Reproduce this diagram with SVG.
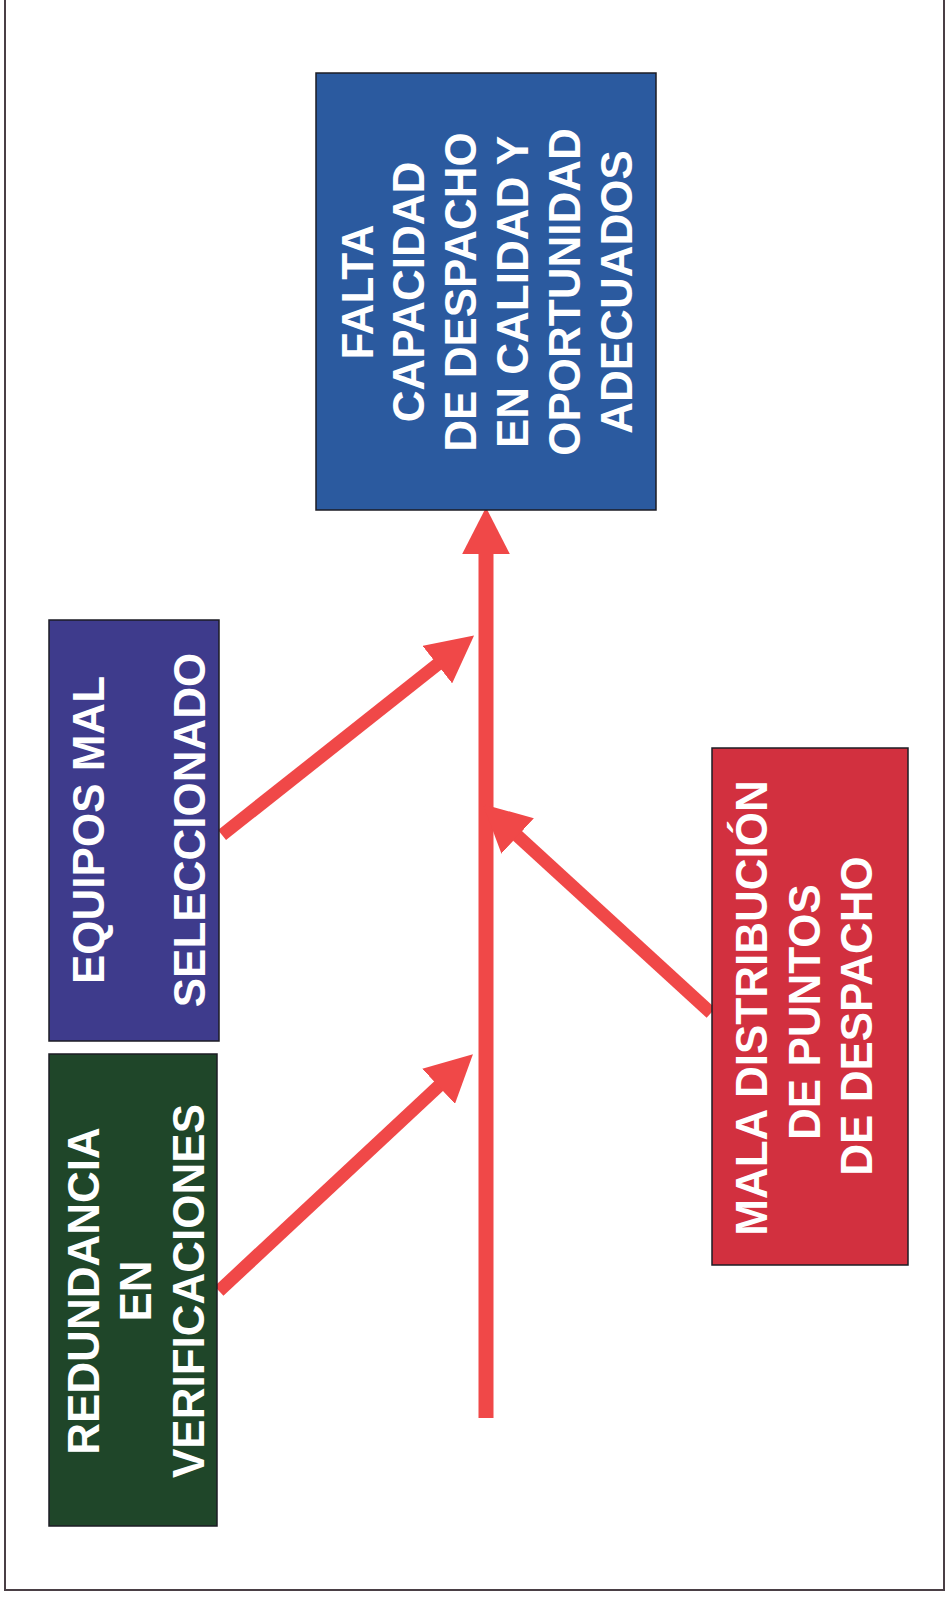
<svg xmlns="http://www.w3.org/2000/svg" width="948" height="1600" viewBox="0 0 948 1600">
<style>
.box{stroke:#1c1c24;stroke-width:1.5}
.t{font-family:"Liberation Sans",Arial,sans-serif;font-weight:bold;font-size:44px;fill:#ffffff;text-anchor:middle}
.arr{stroke:#f04848;fill:none;stroke-linecap:butt}
</style>
<defs>
<marker id="ah" markerUnits="userSpaceOnUse" markerWidth="48" markerHeight="48" refX="8" refY="23" orient="auto" viewBox="0 0 46 46">
<path d="M0,0 L45,23 L0,46 Z" fill="#f04848"/>
</marker>
</defs>
<rect width="948" height="1600" fill="#ffffff"/>
<path d="M5,0 V1590 H944 V0" fill="none" stroke="#4a3f45" stroke-width="2"/>

<g id="connectors">
<line class="arr" x1="486" y1="1418" x2="486" y2="546" stroke-width="15" marker-end="url(#ah)"/>
<line class="arr" x1="222" y1="835" x2="443.8" y2="659.4" stroke-width="13" marker-end="url(#ah)"/>
<line class="arr" x1="219" y1="1291" x2="444.7" y2="1080.6" stroke-width="13" marker-end="url(#ah)"/>
<line class="arr" x1="711" y1="1013" x2="511.5" y2="830.3" stroke-width="13" marker-end="url(#ah)"/>
</g>

<g id="node-falta">
<rect class="box" x="316" y="73" width="340" height="437" fill="#2b5a9f"/>
<text class="t" transform="translate(373,292) rotate(-90)">FALTA</text>
<text class="t" transform="translate(424,292) rotate(-90)">CAPACIDAD</text>
<text class="t" transform="translate(476,292) rotate(-90)">DE DESPACHO</text>
<text class="t" transform="translate(528,292) rotate(-90)">EN CALIDAD Y</text>
<text class="t" transform="translate(580,292) rotate(-90)">OPORTUNIDAD</text>
<text class="t" transform="translate(632,292) rotate(-90)">ADECUADOS</text>
</g>

<g id="node-equipos">
<rect class="box" x="49" y="620" width="170" height="421" fill="#3e3b8c"/>
<text class="t" transform="translate(104,830) rotate(-90)">EQUIPOS MAL</text>
<text class="t" transform="translate(205,830) rotate(-90)">SELECCIONADO</text>
</g>

<g id="node-redundancia">
<rect class="box" x="49" y="1054" width="168" height="472" fill="#1f4629"/>
<text class="t" transform="translate(99,1291) rotate(-90)">REDUNDANCIA</text>
<text class="t" transform="translate(151,1291) rotate(-90)">EN</text>
<text class="t" transform="translate(204,1291) rotate(-90)">VERIFICACIONES</text>
</g>

<g id="node-mala">
<rect class="box" x="712" y="748" width="196" height="517" fill="#d2303f"/>
<text class="t" transform="translate(767,1008) rotate(-90)">MALA DISTRIBUCIÓN</text>
<text class="t" transform="translate(820,1012) rotate(-90)">DE PUNTOS</text>
<text class="t" transform="translate(872,1016) rotate(-90)">DE DESPACHO</text>
</g>
</svg>
